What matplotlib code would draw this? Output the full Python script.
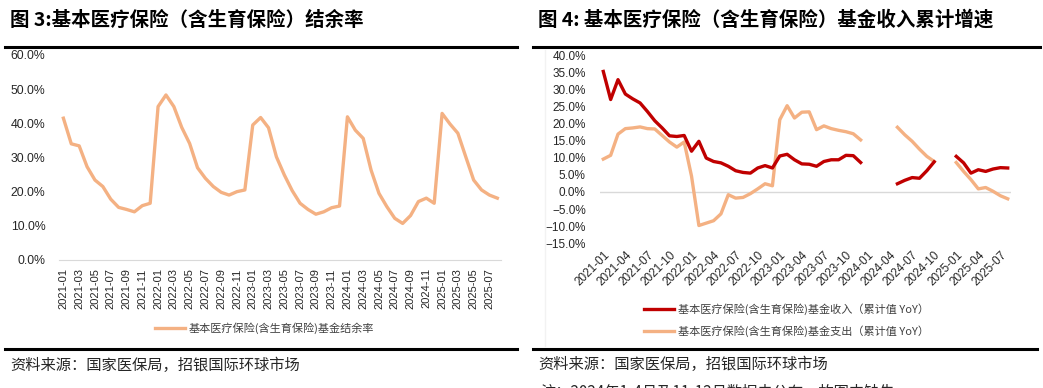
import numpy as np
import pandas as pd
import matplotlib
matplotlib.use('Agg')
import matplotlib.pyplot as plt
from matplotlib.lines import Line2D
from matplotlib.ticker import PercentFormatter

# Data (monthly, 2021-01 .. 2025-08)
months = pd.period_range('2021-01', '2025-08', freq='M').strftime('%Y-%m').tolist()

surplus_rate = [41.5, 34.0, 33.4, 27.3, 23.4, 21.5, 17.8, 15.4, 14.8, 14.1, 15.9, 16.6,
                44.9, 48.3, 44.9, 38.8, 34.1, 27.0, 23.9, 21.5, 19.8, 19.0, 20.0, 20.5,
                39.5, 41.7, 38.7, 30.2, 24.9, 20.3, 16.6, 14.8, 13.4, 14.1, 15.3, 15.8,
                41.9, 38.0, 35.6, 26.3, 19.5, 15.6, 12.2, 10.7, 13.0, 17.1, 18.1, 16.6,
                42.9, 39.8, 37.1, 30.2, 23.4, 20.5, 19.0, 18.1]

nan = np.nan
income_yoy = [35.2, 27.0, 32.8, 28.6, 27.2, 26.0, 23.5, 20.8, 18.7, 16.4, 16.2, 16.5,
              11.9, 14.8, 9.9, 8.9, 8.5, 7.5, 6.2, 5.7, 5.5, 7.0, 7.7, 7.0,
              10.5, 11.0, 9.4, 8.2, 8.1, 7.5, 8.9, 9.4, 9.4, 10.7, 10.6, 8.6,
              nan, nan, nan, nan, 2.4, 3.4, 4.2, 4.0, 6.2, 8.8, nan, nan,
              10.4, 8.5, 5.5, 6.5, 6.0, 6.7, 7.1, 7.0]
expense_yoy = [9.6, 10.7, 16.9, 18.5, 18.7, 19.0, 18.5, 18.4, 16.5, 14.6, 13.1, 14.6,
               4.6, -9.8, -9.1, -8.4, -6.4, -0.8, -1.8, -1.6, -0.5, 0.9, 2.4, 1.8,
               21.1, 25.2, 21.6, 23.3, 23.4, 18.2, 19.3, 18.5, 18.0, 17.6, 17.0, 15.2,
               nan, nan, nan, nan, 18.9, 16.7, 14.8, 12.5, 10.4, 8.9, nan, nan,
               8.6, 6.0, 3.6, 0.9, 1.3, 0.2, -1.1, -2.0]

ORANGE = '#F4B183'
RED = '#C00000'
CJK = ['Noto Sans CJK SC', 'DejaVu Sans']
plt.rcParams['font.family'] = ['Liberation Sans', 'Noto Sans CJK SC', 'DejaVu Sans']

fig = plt.figure(figsize=(10.43, 3.88), dpi=100)
x = np.arange(len(months))

# ---- left chart: surplus rate
ax1 = fig.add_axes([0.0570, 0.3299, 0.4236, 0.5284])
ax1.plot(x, surplus_rate, color=ORANGE, lw=2.4, label='基本医疗保险(含生育保险)基金结余率')
ax1.set_xlim(-0.5, len(months) - 0.5)
ax1.set_ylim(0, 60)
ax1.set_yticks(np.arange(0, 61, 10))
ax1.yaxis.set_major_formatter(PercentFormatter(decimals=1))
ax1.set_xticks(x[::2])
ax1.set_xticklabels(months[::2], rotation=90)
ax1.tick_params(length=0, labelsize=8, colors='#262626')
ax1.tick_params(axis='y', pad=10, labelsize=8.8)
ax1.tick_params(axis='x', pad=6)
for s in ['top', 'right', 'left']:
    ax1.spines[s].set_visible(False)
ax1.spines['bottom'].set_color('#D9D9D9')
leg1 = ax1.legend(loc='center', bbox_to_anchor=(0.2536, 0.1546), bbox_transform=fig.transFigure,
                  frameon=False, handlelength=2.7, handletextpad=0.3, prop={'family': CJK, 'size': 8})
for t in leg1.get_texts():
    t.set_color('#404040')

# ---- right chart: cumulative income / expense growth
ax2 = fig.add_axes([0.5749, 0.3729, 0.3948, 0.4853])
ax2.axhline(0, color='#D9D9D9', lw=1, zorder=1)
ax2.plot(x, income_yoy, color=RED, lw=2.4, label='基本医疗保险(含生育保险)基金收入（累计值 YoY）', zorder=3)
ax2.plot(x, expense_yoy, color=ORANGE, lw=2.4, label='基本医疗保险(含生育保险)基金支出（累计值 YoY）', zorder=2)
ax2.set_xlim(-0.5, len(months) - 0.5)
ax2.set_ylim(-15, 40)
ax2.set_yticks(np.arange(-15, 41, 5))
ax2.yaxis.set_major_formatter(PercentFormatter(decimals=1))
ax2.set_xticks(x[::3])
ax2.set_xticklabels(months[::3], rotation=45, ha='right', va='top', rotation_mode='anchor')
ax2.tick_params(length=0, labelsize=8.5, colors='#262626')
ax2.tick_params(axis='y', pad=10)
ax2.tick_params(axis='x', pad=4)
for s in ax2.spines.values():
    s.set_visible(False)
leg2 = ax2.legend(loc='center', bbox_to_anchor=(0.754, 0.175), bbox_transform=fig.transFigure,
                  frameon=False, handlelength=2.7, handletextpad=0.3, labelspacing=0.9,
                  prop={'family': CJK, 'size': 8})
for t in leg2.get_texts():
    t.set_color('#404040')

# ---- titles, rules and notes
fig.text(10 / 1043, 0.948, '图 3:基本医疗保险（含生育保险）结余率', family=CJK, fontsize=14,
         fontweight='bold', va='center', ha='left')
fig.text(538 / 1043, 0.948, '图 4: 基本医疗保险（含生育保险）基金收入累计增速', family=CJK, fontsize=14,
         fontweight='bold', va='center', ha='left')

for x0, x1 in [(5, 517), (533, 1040)]:
    fig.add_artist(Line2D([x0 / 1043, x1 / 1043], [1 - 46.5 / 388] * 2, color='black', lw=2.2))
for x0, x1 in [(5, 517), (533, 1037)]:
    fig.add_artist(Line2D([x0 / 1043, x1 / 1043], [1 - 349.3 / 388] * 2, color='black', lw=2.2))
fig.add_artist(Line2D([545 / 1043] * 2, [1 - 50 / 388, 1 - 346 / 388], color='#F2F2F2', lw=1))

fig.text(10 / 1043, 1 - 365 / 388, '资料来源：国家医保局，招银国际环球市场', family=CJK, fontsize=11,
         va='center', ha='left', color='#262626')
fig.text(538 / 1043, 1 - 364 / 388, '资料来源：国家医保局，招银国际环球市场', family=CJK, fontsize=11,
         va='center', ha='left', color='#262626')
# note line that the reference shows cut off at the bottom edge
fig.text(540 / 1043, 1 - 392 / 388, '注：2024年1-4月及11-12月数据未公布，故图中缺失', family=CJK, fontsize=11,
         va='center', ha='left', color='#262626')

fig.savefig('out.png', dpi=100)
